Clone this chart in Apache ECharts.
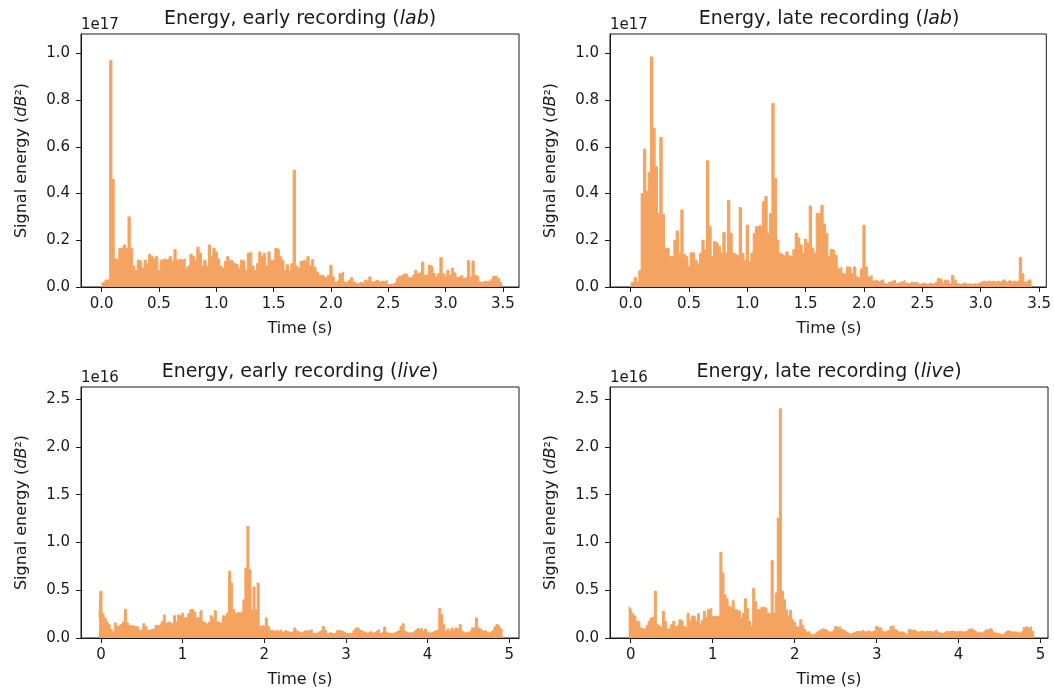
<!DOCTYPE html>
<html>
<head>
<meta charset="utf-8">
<script src="https://cdn.jsdelivr.net/npm/echarts@6/dist/echarts.min.js"></script>
<style>
  html, body { margin: 0; padding: 0; background: #fff; }
  #chart { width: 1054px; height: 695px; }
</style>
</head>
<body>
<div id="chart"></div>
<script>
// signal energy per frame, lab recordings in units of 1e17, frames every 0.02 s from 0 s
const labEarly = [
  0.01, 0.02, 0.03, 0.03, 0.97, 0.46, 0.12, 0.115, 0.165, 0.17,
  0.18, 0.165, 0.30, 0.165, 0.09, 0.07, 0.115, 0.11, 0.08, 0.115,
  0.10, 0.14, 0.13, 0.12, 0.13, 0.07, 0.115, 0.12, 0.115, 0.12,
  0.13, 0.11, 0.16, 0.115, 0.12, 0.115, 0.12, 0.08, 0.09, 0.14,
  0.13, 0.115, 0.17, 0.145, 0.09, 0.115, 0.09, 0.18, 0.13, 0.165,
  0.15, 0.12, 0.09, 0.08, 0.11, 0.13, 0.115, 0.11, 0.10, 0.095,
  0.08, 0.115, 0.11, 0.07, 0.145, 0.15, 0.09, 0.07, 0.10, 0.15,
  0.13, 0.145, 0.09, 0.15, 0.115, 0.115, 0.165, 0.16, 0.13, 0.115,
  0.07, 0.095, 0.07, 0.10, 0.50, 0.09, 0.08, 0.11, 0.115, 0.107,
  0.13, 0.09, 0.117, 0.085, 0.064, 0.05, 0.05, 0.043, 0.036, 0.05,
  0.093, 0.043, 0.021, 0.029, 0.057, 0.064, 0.021, 0.017, 0.029, 0.04,
  0.021, 0.014, 0.017, 0.021, 0.014, 0.029, 0.021, 0.043, 0.021, 0.026,
  0.029, 0.021, 0.026, 0.021, 0.029, 0.011, 0.011, 0.014, 0.021, 0.036,
  0.046, 0.053, 0.057, 0.054, 0.04, 0.036, 0.05, 0.071, 0.057, 0.064,
  0.107, 0.05, 0.057, 0.093, 0.086, 0.057, 0.043, 0.057, 0.126, 0.057,
  0.043, 0.071, 0.05, 0.081, 0.06, 0.04, 0.046, 0.05, 0.036, 0.043,
  0.114, 0.043, 0.111, 0.05, 0.043, 0.021, 0.021, 0.026, 0.021, 0.029,
  0.036, 0.046, 0.046, 0.036, 0.021, 0.003
];
const labLate = [
  0.01, 0.02, 0.04, 0.02, 0.07, 0.40, 0.59, 0.41, 0.49, 0.985,
  0.68, 0.515, 0.315, 0.64, 0.31, 0.165, 0.165, 0.13, 0.13, 0.20,
  0.24, 0.145, 0.33, 0.14, 0.13, 0.087, 0.147, 0.145, 0.115, 0.10,
  0.145, 0.20, 0.158, 0.54, 0.258, 0.13, 0.194, 0.187, 0.173, 0.145,
  0.233, 0.145, 0.37, 0.23, 0.145, 0.137, 0.133, 0.34, 0.145, 0.113,
  0.265, 0.108, 0.145, 0.23, 0.258, 0.265, 0.258, 0.365, 0.387, 0.23,
  0.315, 0.786, 0.465, 0.20, 0.145, 0.137, 0.13, 0.15, 0.133, 0.13,
  0.16, 0.23, 0.21, 0.18, 0.145, 0.204, 0.187, 0.347, 0.165, 0.145,
  0.315, 0.315, 0.35, 0.27, 0.23, 0.13, 0.16, 0.157, 0.136, 0.078,
  0.086, 0.057, 0.054, 0.086, 0.083, 0.057, 0.086, 0.043, 0.036, 0.078,
  0.264, 0.086, 0.043, 0.05, 0.026, 0.029, 0.021, 0.029, 0.031, 0.014,
  0.011, 0.021, 0.026, 0.029, 0.014, 0.02, 0.021, 0.029, 0.017, 0.014,
  0.021, 0.017, 0.021, 0.014, 0.011, 0.017, 0.014, 0.011, 0.017, 0.014,
  0.011, 0.021, 0.036, 0.031, 0.017, 0.029, 0.026, 0.014, 0.05, 0.029,
  0.014, 0.011, 0.014, 0.017, 0.011, 0.014, 0.011, 0.014, 0.011, 0.017,
  0.021, 0.026, 0.021, 0.026, 0.021, 0.026, 0.021, 0.026, 0.021, 0.029,
  0.031, 0.021, 0.029, 0.021, 0.026, 0.021, 0.029, 0.126, 0.057, 0.021,
  0.029, 0.031, 0.021
];
// live recordings in units of 1e16, frames every 0.025 s from -0.025 s
const liveEarly = [
  0.21, 0.49, 0.26, 0.21, 0.17, 0.14, 0.087, 0.06, 0.157, 0.12,
  0.14, 0.14, 0.17, 0.30, 0.157, 0.13, 0.13, 0.12, 0.12, 0.115,
  0.08, 0.087, 0.15, 0.12, 0.08, 0.087, 0.087, 0.105, 0.13, 0.13,
  0.14, 0.17, 0.24, 0.157, 0.17, 0.157, 0.14, 0.233, 0.17, 0.24,
  0.226, 0.26, 0.21, 0.22, 0.254, 0.296, 0.30, 0.27, 0.21, 0.22,
  0.285, 0.17, 0.157, 0.14, 0.164, 0.233, 0.2, 0.285, 0.17, 0.157,
  0.164, 0.233, 0.22, 0.26, 0.70, 0.575, 0.296, 0.26, 0.27, 0.26,
  0.28, 0.40, 0.73, 1.17, 0.714, 0.296, 0.533, 0.296, 0.575, 0.122,
  0.13, 0.122, 0.21, 0.122, 0.08, 0.08, 0.07, 0.08, 0.07, 0.087,
  0.06, 0.08, 0.07, 0.06, 0.06, 0.07, 0.105, 0.07, 0.06, 0.05,
  0.07, 0.077, 0.07, 0.08, 0.087, 0.05, 0.045, 0.06, 0.07, 0.087,
  0.12, 0.08, 0.045, 0.06, 0.045, 0.05, 0.045, 0.08, 0.077, 0.07,
  0.06, 0.045, 0.05, 0.045, 0.05, 0.08, 0.105, 0.105, 0.08, 0.07,
  0.06, 0.05, 0.06, 0.07, 0.05, 0.06, 0.08, 0.087, 0.05, 0.07,
  0.115, 0.06, 0.045, 0.05, 0.05, 0.06, 0.07, 0.08, 0.12, 0.15,
  0.07, 0.05, 0.06, 0.05, 0.07, 0.087, 0.105, 0.087, 0.105, 0.07,
  0.094, 0.06, 0.05, 0.06, 0.07, 0.08, 0.087, 0.31, 0.245, 0.14,
  0.07, 0.094, 0.07, 0.105, 0.08, 0.105, 0.087, 0.14, 0.07, 0.05,
  0.06, 0.06, 0.08, 0.105, 0.115, 0.21, 0.105, 0.087, 0.07, 0.08,
  0.06, 0.05, 0.07, 0.08, 0.115, 0.14, 0.12, 0.094, 0.07
];
const liveLate = [
  0.33, 0.31, 0.26, 0.23, 0.175, 0.164, 0.105, 0.094, 0.094, 0.13,
  0.175, 0.21, 0.226, 0.49, 0.14, 0.12, 0.105, 0.28, 0.175, 0.094,
  0.105, 0.14, 0.175, 0.12, 0.14, 0.19, 0.175, 0.12, 0.105, 0.26,
  0.175, 0.23, 0.226, 0.175, 0.254, 0.15, 0.185, 0.28, 0.21, 0.30,
  0.31, 0.226, 0.226, 0.226, 0.226, 0.895, 0.68, 0.45, 0.41, 0.33,
  0.31, 0.39, 0.296, 0.29, 0.28, 0.21, 0.26, 0.41, 0.31, 0.175,
  0.12, 0.52, 0.38, 0.296, 0.296, 0.32, 0.32, 0.31, 0.26, 0.245,
  0.81, 0.26, 0.47, 1.254, 2.40, 0.49, 0.40, 0.296, 0.226, 0.29,
  0.19, 0.164, 0.12, 0.105, 0.19, 0.13, 0.087, 0.06, 0.07, 0.035,
  0.035, 0.052, 0.07, 0.08, 0.094, 0.094, 0.087, 0.07, 0.06, 0.07,
  0.09, 0.12, 0.11, 0.12, 0.09, 0.08, 0.06, 0.05, 0.04, 0.05,
  0.06, 0.07, 0.065, 0.07, 0.08, 0.06, 0.07, 0.075, 0.06, 0.07,
  0.08, 0.12, 0.10, 0.11, 0.07, 0.06, 0.08, 0.07, 0.12, 0.13,
  0.09, 0.07, 0.06, 0.065, 0.06, 0.04, 0.035, 0.09, 0.08, 0.085,
  0.07, 0.06, 0.07, 0.075, 0.06, 0.07, 0.065, 0.07, 0.06, 0.075,
  0.085, 0.06, 0.05, 0.045, 0.06, 0.07, 0.065, 0.07, 0.075, 0.06,
  0.07, 0.065, 0.07, 0.06, 0.07, 0.065, 0.09, 0.10, 0.08, 0.07,
  0.05, 0.06, 0.05, 0.07, 0.09, 0.08, 0.10, 0.09, 0.06, 0.05,
  0.05, 0.04, 0.035, 0.05, 0.07, 0.075, 0.07, 0.06, 0.065, 0.06,
  0.05, 0.06, 0.07, 0.11, 0.12, 0.10, 0.12, 0.07, 0.05
];

const labTimeTicks = [0, 0.5, 1, 1.5, 2, 2.5, 3, 3.5];
const liveTimeTicks = [0, 1, 2, 3, 4, 5];
const labEnergyTicks = [0, 0.2, 0.4, 0.6, 0.8, 1.0];
const liveEnergyTicks = [0, 0.5, 1.0, 1.5, 2.0, 2.5];

const FONT = 'DejaVu Sans';
const INK = '#1a1a1a';
const FILL = '#f4a460';

const panels = [
  { name: 'early', tag: 'lab', values: labEarly, t0: 0, dt: 0.02, xMin: -0.18, xMax: 3.64,
    yMax: 1.083, xTicks: labTimeTicks, yTicks: labEnergyTicks, exp: '1e17', xFmt: 1,
    box: { left: 81, top: 34, width: 438, height: 253 } },
  { name: 'late', tag: 'lab', values: labLate, t0: 0, dt: 0.02, xMin: -0.177, xMax: 3.562,
    yMax: 1.083, xTicks: labTimeTicks, yTicks: labEnergyTicks, exp: '1e17', xFmt: 1,
    box: { left: 610, top: 34, width: 438, height: 253 } },
  { name: 'early', tag: 'live', values: liveEarly, t0: -0.025, dt: 0.025, xMin: -0.245, xMax: 5.12,
    yMax: 2.628, xTicks: liveTimeTicks, yTicks: liveEnergyTicks, exp: '1e16', xFmt: 0,
    box: { left: 81, top: 387, width: 438, height: 251 } },
  { name: 'late', tag: 'live', values: liveLate, t0: -0.025, dt: 0.025, xMin: -0.253, xMax: 5.09,
    yMax: 2.628, xTicks: liveTimeTicks, yTicks: liveEnergyTicks, exp: '1e16', xFmt: 0,
    box: { left: 610, top: 387, width: 438, height: 251 } }
];

const tickLabel = { fontFamily: FONT, fontSize: 15, color: INK };
const axisLine = { show: true, onZero: false, lineStyle: { color: INK, width: 1 } };

const grids = [], xAxes = [], yAxes = [], series = [], graphics = [];

panels.forEach((p, i) => {
  const b = p.box;
  grids.push({ left: b.left, top: b.top, width: b.width, height: b.height,
    show: true, borderColor: INK, borderWidth: 1, containLabel: false });

  xAxes.push({
    type: 'value', gridIndex: i, min: p.xMin, max: p.xMax, z: 5,
    splitLine: { show: false }, axisLine: axisLine,
    axisTick: { show: true, length: 5, customValues: p.xTicks, lineStyle: { color: INK, width: 1 } },
    axisLabel: Object.assign({ customValues: p.xTicks, margin: 10,
      formatter: v => v.toFixed(p.xFmt) }, tickLabel)
  });
  yAxes.push({
    type: 'value', gridIndex: i, min: 0, max: p.yMax, z: 5,
    splitLine: { show: false }, axisLine: axisLine,
    axisTick: { show: true, length: 5, customValues: p.yTicks, lineStyle: { color: INK, width: 1 } },
    axisLabel: Object.assign({ customValues: p.yTicks, margin: 11,
      formatter: v => v.toFixed(1) }, tickLabel)
  });

  series.push({
    type: 'line', xAxisIndex: i, yAxisIndex: i, step: 'middle',
    showSymbol: false, silent: true, z: 2,
    lineStyle: { color: FILL, width: 1 },
    areaStyle: { color: FILL, opacity: 1 },
    data: p.values.map((v, k) => [p.t0 + k * p.dt, v])
  });

  const cx = b.left + b.width / 2;
  const cy = b.top + b.height / 2;
  graphics.push({
    type: 'text', x: cx, y: b.top - 15,
    style: { text: 'Energy, ' + p.name + ' recording ({i|' + p.tag + '})',
      fontFamily: FONT, fontSize: 19, fill: INK, align: 'center', verticalAlign: 'middle',
      rich: { i: { fontFamily: FONT, fontSize: 19, fontStyle: 'italic', fill: INK } } }
  });
  graphics.push({
    type: 'text', x: b.left, y: b.top - 9,
    style: { text: p.exp, fontFamily: FONT, fontSize: 15, fill: INK,
      align: 'left', verticalAlign: 'middle' }
  });
  graphics.push({
    type: 'text', x: cx, y: b.top + b.height + 42,
    style: { text: 'Time (s)', fontFamily: FONT, fontSize: 16, fill: INK,
      align: 'center', verticalAlign: 'middle' }
  });
  graphics.push({
    type: 'text', x: b.left - 59, y: cy, rotation: Math.PI / 2,
    style: { text: 'Signal energy ({i|dB}²)',
      fontFamily: FONT, fontSize: 16, fill: INK, align: 'center', verticalAlign: 'middle',
      rich: { i: { fontFamily: FONT, fontSize: 16, fontStyle: 'italic', fill: INK } } }
  });
});

const chart = echarts.init(document.getElementById('chart'), null, { renderer: 'canvas' });
chart.setOption({
  animation: false,
  backgroundColor: '#fff',
  grid: grids,
  xAxis: xAxes,
  yAxis: yAxes,
  series: series,
  graphic: graphics
});
</script>
</body>
</html>
